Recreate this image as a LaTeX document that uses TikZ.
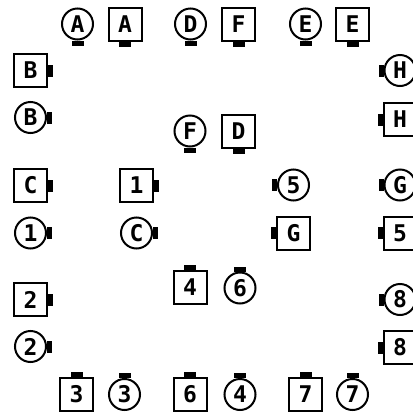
\documentclass[tikz,border=0pt]{standalone}
\usepackage{fontspec}
\newfontfamily\pixfont{DejaVu Sans Mono}
\newcommand\tabDown[1]{\fill ([xshift=-6pt]#1.south) rectangle ([xshift=6pt,yshift=-5pt]#1.south);}
\newcommand\tabUp[1]{\fill ([xshift=-6pt]#1.north) rectangle ([xshift=6pt,yshift=5pt]#1.north);}
\newcommand\tabLeft[1]{\fill ([yshift=-6pt]#1.west) rectangle ([xshift=-5pt,yshift=6pt]#1.west);}
\newcommand\tabRight[1]{\fill ([yshift=-6pt]#1.east) rectangle ([xshift=5pt,yshift=6pt]#1.east);}
\tikzset{
  lbl/.style={draw=black, line width=2pt, inner sep=0pt, text=black,
    font=\pixfont\bfseries\fontsize{23pt}{23pt}\selectfont},
  sq/.style={lbl, rectangle, minimum size=33pt},
  cir/.style={lbl, circle, minimum size=31pt}
}
\begin{document}
\begin{tikzpicture}[x=1pt,y=-1pt]
\useasboundingbox (0,0) rectangle (413,413);
\clip (0,0) rectangle (413,413);
% top row
\node[cir] (cA) at (77.5,24) {A};
\node[sq]  (sA) at (125,24.5) {A};
\node[cir] (cD) at (190.5,24) {D};
\node[sq]  (sF) at (238.5,24.5) {F};
\node[cir] (cE) at (305.5,24) {E};
\node[sq]  (sE) at (352.5,24.5) {E};
\tabDown{cA}\tabDown{sA}\tabDown{cD}\tabDown{sF}\tabDown{cE}\tabDown{sE}
% left column
\node[sq]  (sB) at (30.5,70.5) {B};
\node[cir] (cB) at (30.5,117.5) {B};
\node[sq]  (sC) at (30.5,185.5) {C};
\node[cir] (c1) at (30.5,233) {1};
\node[sq]  (s2) at (30.5,299.5) {2};
\node[cir] (c2) at (30.5,346.5) {2};
\tabRight{sB}\tabRight{cB}\tabRight{sC}\tabRight{c1}\tabRight{s2}\tabRight{c2}
% right column
\node[cir] (cH) at (400,70.5) {H};
\node[sq]  (sH) at (400,119.5) {H};
\node[cir] (cG) at (400,185) {G};
\node[sq]  (s5) at (400,233) {5};
\node[cir] (c8) at (400,299.5) {8};
\node[sq]  (s8) at (400,347.5) {8};
\tabLeft{cH}\tabLeft{sH}\tabLeft{cG}\tabLeft{s5}\tabLeft{c8}\tabLeft{s8}
% bottom row
\node[sq]  (s3) at (76.5,394.5) {3};
\node[cir] (c3) at (124.5,394.5) {3};
\node[sq]  (s6) at (190,394.5) {6};
\node[cir] (c4) at (240,394.5) {4};
\node[sq]  (s7) at (305.5,394.5) {7};
\node[cir] (c7) at (352.5,394.5) {7};
\tabUp{s3}\tabUp{c3}\tabUp{s6}\tabUp{c4}\tabUp{s7}\tabUp{c7}
% interior
\node[cir] (cF) at (190,131) {F};
\node[sq]  (sD) at (238.5,131.5) {D};
\tabDown{cF}\tabDown{sD}
\node[sq]  (s1) at (136.5,185.5) {1};
\node[cir] (cC) at (136.5,233) {C};
\tabRight{s1}\tabRight{cC}
\node[cir] (c5) at (293.5,185) {5};
\node[sq]  (sG) at (293.5,233) {G};
\tabLeft{c5}\tabLeft{sG}
\node[sq]  (s4) at (190,287.5) {4};
\node[cir] (c6) at (240,288) {6};
\tabUp{s4}\tabUp{c6}
\end{tikzpicture}
\end{document}
